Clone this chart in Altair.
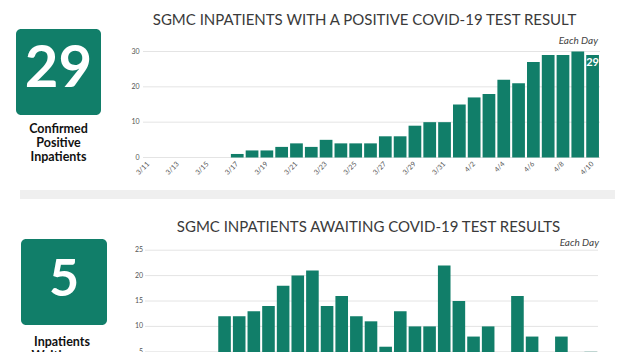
import altair as alt
import pandas as pd

# ---- data ----
dates = ["3/11", "3/12", "3/13", "3/14", "3/15", "3/16", "3/17", "3/18", "3/19", "3/20",
         "3/21", "3/22", "3/23", "3/24", "3/25", "3/26", "3/27", "3/28", "3/29", "3/30",
         "3/31", "4/1", "4/2", "4/3", "4/4", "4/5", "4/6", "4/7", "4/8", "4/9", "4/10"]
positive = [0, 0, 0, 0, 0, 0, 1, 2, 2, 3, 4, 3, 5, 4, 4, 4, 6, 6, 9, 10,
            10, 15, 17, 18, 22, 21, 27, 29, 29, 30, 29]
awaiting = [0, 0, 0, 0, 0, 12, 12, 13, 14, 18, 20, 21, 14, 16, 12, 11, 6, 13, 10, 10,
            22, 15, 8, 10, 3, 16, 8, 4, 8, 3, 5]
tick_dates = dates[::2]
pos_ticks = [0, 10, 20, 30]
await_ticks = [5, 10, 15, 20, 25]

title_top = "SGMC INPATIENTS WITH A POSITIVE COVID-19 TEST RESULT"
title_bot = "SGMC INPATIENTS AWAITING COVID-19 TEST RESULTS"
sub_label = "Each Day"
caption_top = ["Confirmed", "Positive", "Inpatients"]
caption_bot = ["Inpatients", "Waiting on"]

TEAL = "#117e69"
FONT = "Lato"

df = pd.DataFrame({"date": dates, "positive": positive, "awaiting": awaiting})
df_ticks = pd.DataFrame({"date": tick_dates})
df_last = df.tail(1)

xs_top = alt.Scale(domain=dates, range=[141, 600], paddingInner=0.14, paddingOuter=0.07)
xs_bot = alt.Scale(domain=dates, range=[144, 598], paddingInner=0.14, paddingOuter=0.07)
ys_top = alt.Scale(domain=[0, 30], range=[157.5, 51.5], nice=False)
ys_bot = alt.Scale(domain=[0, 25], range=[377.2, 250.2], nice=False)


def one(text):
    return pd.DataFrame({"t": [text]})


layers = []

# gray separator
layers.append(alt.Chart(one("")).mark_rect(color="#efefef").encode(
    x=alt.value(20), x2=alt.value(615), y=alt.value(190), y2=alt.value(199)))

# grid lines
layers.append(alt.Chart(pd.DataFrame({"v": pos_ticks})).mark_rule(color="#e4e4e4", strokeWidth=1).encode(
    y=alt.Y("v:Q", scale=ys_top, axis=None), x=alt.value(143), x2=alt.value(600)))
layers.append(alt.Chart(pd.DataFrame({"v": await_ticks})).mark_rule(color="#e4e4e4", strokeWidth=1).encode(
    y=alt.Y("v:Q", scale=ys_bot, axis=None), x=alt.value(145), x2=alt.value(598)))

# y labels
layers.append(alt.Chart(pd.DataFrame({"v": pos_ticks})).mark_text(
    align="right", baseline="middle", fontSize=7, color="#555", font=FONT).encode(
    y=alt.Y("v:Q", scale=ys_top, axis=None), x=alt.value(139.5), text="v:Q"))
layers.append(alt.Chart(pd.DataFrame({"v": await_ticks})).mark_text(
    align="right", baseline="middle", fontSize=7, color="#555", font=FONT).encode(
    y=alt.Y("v:Q", scale=ys_bot, axis=None), x=alt.value(143), text="v:Q"))

# bars
layers.append(alt.Chart(df).mark_bar(color=TEAL).encode(
    x=alt.X("date:O", scale=xs_top, axis=None, sort=None),
    y=alt.Y("positive:Q", scale=ys_top, axis=None)))
layers.append(alt.Chart(df).mark_bar(color=TEAL).encode(
    x=alt.X("date:O", scale=xs_bot, axis=None, sort=None),
    y=alt.Y("awaiting:Q", scale=ys_bot, axis=None)))

# x tick labels (top chart)
layers.append(alt.Chart(df_ticks).mark_text(
    align="right", baseline="middle", angle=315, fontSize=7, color="#555", font=FONT).encode(
    x=alt.X("date:O", scale=xs_top, axis=None, sort=None),
    y=alt.value(163), text="date:N"))

# last bar value label
layers.append(alt.Chart(df_last).mark_text(
    align="center", baseline="top", dy=2, fontSize=11, fontWeight="bold", color="white", font=FONT).encode(
    x=alt.X("date:O", scale=xs_top, axis=None, sort=None),
    y=alt.Y("positive:Q", scale=ys_top, axis=None), text="positive:Q"))

# titles
layers.append(alt.Chart(one(title_top)).mark_text(
    align="center", baseline="middle", fontSize=15, color="#3a3a3a", font=FONT).encode(
    x=alt.value(364.5), y=alt.value(20), text="t:N"))
layers.append(alt.Chart(one(title_bot)).mark_text(
    align="center", baseline="middle", fontSize=15, color="#3a3a3a", font=FONT).encode(
    x=alt.value(368.5), y=alt.value(227), text="t:N"))

# "Each Day"
layers.append(alt.Chart(one(sub_label)).mark_text(
    align="right", baseline="middle", fontSize=10, fontStyle="italic", color="#444", font=FONT).encode(
    x=alt.value(598), y=alt.value(41), text="t:N"))
layers.append(alt.Chart(one(sub_label)).mark_text(
    align="right", baseline="middle", fontSize=10, fontStyle="italic", color="#444", font=FONT).encode(
    x=alt.value(599), y=alt.value(243), text="t:N"))

# KPI boxes
layers.append(alt.Chart(one("")).mark_rect(color=TEAL, cornerRadius=5).encode(
    x=alt.value(16), x2=alt.value(101), y=alt.value(29), y2=alt.value(115)))
layers.append(alt.Chart(one("")).mark_rect(color=TEAL, cornerRadius=5).encode(
    x=alt.value(21), x2=alt.value(107), y=alt.value(239), y2=alt.value(325)))

layers.append(alt.Chart(one(str(positive[-1]))).mark_text(
    align="center", baseline="middle", fontSize=58, fontWeight="bold", color="white", font=FONT).encode(
    x=alt.value(58.5), y=alt.value(70), text="t:N"))
layers.append(alt.Chart(one(str(awaiting[-1]))).mark_text(
    align="center", baseline="middle", fontSize=52, fontWeight="bold", color="white", font=FONT).encode(
    x=alt.value(64), y=alt.value(280), text="t:N"))

# captions (multi-line single text marks)
layers.append(alt.Chart(one("\n".join(caption_top))).mark_text(
    align="center", baseline="top", fontSize=12.5, lineHeight=14, lineBreak="\n",
    fontWeight="bold", color="#111", font=FONT).encode(
    x=alt.value(58.5), y=alt.value(123), text="t:N"))
layers.append(alt.Chart(one("\n".join(caption_bot))).mark_text(
    align="center", baseline="top", fontSize=12.5, lineHeight=14, lineBreak="\n",
    fontWeight="bold", color="#111", font=FONT).encode(
    x=alt.value(62), y=alt.value(336), text="t:N"))

chart = alt.layer(*layers).resolve_scale(x="independent", y="independent").properties(
    width=622, height=352, padding=0, autosize=alt.AutoSizeParams(type="none"),
    background="white"
).configure_view(stroke=None)

chart.save("out.html", embed_options={"renderer": "svg", "actions": False})
